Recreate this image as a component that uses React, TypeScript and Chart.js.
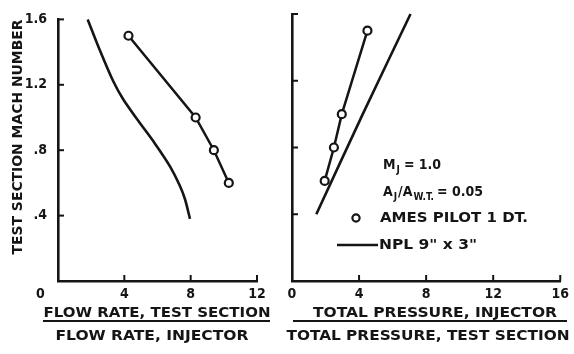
import React, { useEffect, useRef } from 'react';
import { Chart, registerables } from 'chart.js';

Chart.register(...registerables);

// ---- data ----
const machTicks = [0, 0.4, 0.8, 1.2, 1.6];
const flowTicks = [0, 4, 8, 12];
const pressTicks = [0, 4, 8, 12, 16];

const amesMach = [1.5, 1.0, 0.8, 0.6];
const amesFlow = [4.25, 8.3, 9.4, 10.3];
const amesPress = [4.5, 2.97, 2.5, 1.95];

const nplFlowMach = [1.6, 1.41, 1.22, 1.11, 0.98, 0.84, 0.7, 0.58, 0.5, 0.38];
const nplFlow = [1.79, 2.53, 3.34, 3.94, 4.84, 5.85, 6.76, 7.36, 7.66, 7.96];
const nplPressMach = [0.4, 1.0, 1.6];
const nplPress = [1.45, 4.22, 7.07];

const INK = '#151515';
const FONT = '"DejaVu Sans Condensed", "DejaVu Sans", sans-serif';

function pts(xs: number[], ys: number[]) {
  return xs.map((x, i) => ({ x, y: ys[i] }));
}

function fitText(ctx: CanvasRenderingContext2D, text: string, cx: number, cy: number, width: number) {
  const w = ctx.measureText(text).width;
  ctx.save();
  ctx.translate(cx, cy);
  ctx.scale(width / w, 1);
  ctx.textAlign = 'center';
  ctx.textBaseline = 'middle';
  ctx.fillText(text, 0, 0);
  ctx.restore();
}

function leftText(ctx: CanvasRenderingContext2D, text: string, x: number, cy: number, width: number) {
  const w = ctx.measureText(text).width;
  ctx.save();
  ctx.translate(x, cy);
  ctx.scale(width / w, 1);
  ctx.textAlign = 'left';
  ctx.textBaseline = 'middle';
  ctx.fillText(text, 0, 0);
  ctx.restore();
}

const inwardTicks = {
  id: 'inwardTicks',
  afterDraw(chart: any) {
    const { ctx, chartArea, scales } = chart;
    ctx.save();
    ctx.strokeStyle = INK;
    ctx.lineWidth = 2;
    for (const t of scales.y.ticks) {
      if (t.value === 0) continue;
      const y = scales.y.getPixelForValue(t.value);
      ctx.beginPath();
      ctx.moveTo(chartArea.left, y);
      ctx.lineTo(chartArea.left + 6, y);
      ctx.stroke();
    }
    for (const t of scales.x.ticks) {
      if (t.value === 0) continue;
      const x = scales.x.getPixelForValue(t.value);
      ctx.beginPath();
      ctx.moveTo(x, chartArea.bottom);
      ctx.lineTo(x, chartArea.bottom - 6);
      ctx.stroke();
    }
    ctx.restore();
  },
};

function datasets(xs1: number[], ys1: number[], xs2: number[], ys2: number[], tension: number) {
  return [
    {
      label: 'AMES PILOT 1 DT.',
      data: pts(xs1, ys1),
      showLine: true,
      borderColor: INK,
      borderWidth: 2.5,
      pointRadius: 4,
      pointBorderWidth: 2.2,
      pointBackgroundColor: '#ffffff',
      pointBorderColor: INK,
      tension: 0,
      order: 0,
    },
    {
      label: 'NPL 9" x 3"',
      data: pts(xs2, ys2),
      showLine: true,
      borderColor: INK,
      borderWidth: 2.6,
      pointRadius: 0,
      tension,
      order: 1,
    },
  ];
}

function options(
  xTicks: number[],
  yWidth: number,
  padRight: number,
  showY: boolean,
  xLabel: (v: number) => string
) {
  return {
    responsive: false,
    animation: false as const,
    devicePixelRatio: 1,
    clip: false as const,
    layout: { padding: { left: 0, top: 14, right: padRight, bottom: 0 } },
    plugins: { legend: { display: false }, tooltip: { enabled: false } },
    scales: {
      x: {
        type: 'linear' as const,
        min: xTicks[0],
        max: xTicks[xTicks.length - 1],
        afterBuildTicks: (s: any) => {
          s.ticks = xTicks.map((v) => ({ value: v }));
        },
        afterFit: (s: any) => {
          s.height = 73;
        },
        grid: { display: true, drawOnChartArea: false, drawTicks: false, color: INK },
        border: { display: true, color: INK, width: 2.6 },
        ticks: {
          color: INK,
          padding: 5,
          maxRotation: 0,
          autoSkip: false,
          font: { family: FONT, size: 14, weight: 'bold' as const },
          callback: (v: any) => xLabel(Number(v)),
        },
      },
      y: {
        type: 'linear' as const,
        min: 0,
        max: 1.6,
        afterBuildTicks: (s: any) => {
          s.ticks = machTicks.map((v) => ({ value: v }));
        },
        afterFit: (s: any) => {
          s.width = yWidth;
        },
        grid: { display: true, drawOnChartArea: false, drawTicks: false, color: INK },
        border: { display: true, color: INK, width: 2.6 },
        ticks: {
          display: showY,
          color: INK,
          padding: 11,
          autoSkip: false,
          font: { family: FONT, size: 14, weight: 'bold' as const },
          callback: (v: any) => {
            const n = Number(v);
            if (n === 0) return '';
            return n >= 1 ? n.toFixed(1) : '.' + Math.round(n * 10);
          },
        },
      },
    },
  };
}

const leftTitles = {
  id: 'leftTitles',
  afterDraw(chart: any) {
    const ctx: CanvasRenderingContext2D = chart.ctx;
    ctx.save();
    ctx.fillStyle = INK;
    ctx.strokeStyle = INK;
    ctx.font = `bold 14px ${FONT}`;
    // y title
    ctx.save();
    ctx.translate(18, 137);
    ctx.rotate(-Math.PI / 2);
    fitText(ctx, 'TEST SECTION MACH NUMBER', 0, 0, 235);
    ctx.restore();
    // fraction
    fitText(ctx, 'FLOW RATE, TEST SECTION', 157, 313, 227);
    ctx.lineWidth = 2;
    ctx.beginPath();
    ctx.moveTo(43, 321);
    ctx.lineTo(270, 321);
    ctx.stroke();
    fitText(ctx, 'FLOW RATE, INJECTOR', 152, 336, 193);
    ctx.restore();
  },
};

const rightTitles = {
  id: 'rightTitles',
  afterDraw(chart: any) {
    const ctx: CanvasRenderingContext2D = chart.ctx;
    ctx.save();
    ctx.fillStyle = INK;
    ctx.strokeStyle = INK;
    ctx.font = `bold 14px ${FONT}`;
    fitText(ctx, 'TOTAL PRESSURE, INJECTOR', 155, 313, 244);
    ctx.lineWidth = 2;
    ctx.beginPath();
    ctx.moveTo(13, 321);
    ctx.lineTo(287, 321);
    ctx.stroke();
    fitText(ctx, 'TOTAL PRESSURE, TEST SECTION', 148, 336, 283);

    // legend block
    ctx.textAlign = 'left';
    ctx.textBaseline = 'middle';
    const big = `bold 14px ${FONT}`;
    const small = `bold 10px ${FONT}`;
    // M_J = 1.0
    let x = 103;
    ctx.font = big;
    ctx.fillText('M', x, 165);
    x += ctx.measureText('M').width + 1;
    ctx.font = small;
    ctx.fillText('J', x, 170);
    x += ctx.measureText('J').width + 4;
    ctx.font = big;
    ctx.fillText('= 1.0', x, 165);
    // A_J / A_W.T. = 0.05
    x = 103;
    ctx.fillText('A', x, 192);
    x += ctx.measureText('A').width + 1;
    ctx.font = small;
    ctx.fillText('J', x, 197);
    x += ctx.measureText('J').width + 1;
    ctx.font = big;
    ctx.fillText('/A', x, 192);
    x += ctx.measureText('/A').width + 1;
    ctx.font = small;
    ctx.fillText('W.T.', x, 197);
    x += ctx.measureText('W.T.').width + 3;
    ctx.font = big;
    ctx.fillText('= 0.05', x, 192);
    // Ames marker
    ctx.lineWidth = 2.2;
    ctx.fillStyle = '#ffffff';
    ctx.beginPath();
    ctx.arc(76, 218, 3.6, 0, Math.PI * 2);
    ctx.fill();
    ctx.stroke();
    ctx.fillStyle = INK;
    leftText(ctx, 'AMES PILOT 1 DT.', 100, 218, 148);
    // NPL line
    ctx.lineWidth = 2.6;
    ctx.beginPath();
    ctx.moveTo(57, 245);
    ctx.lineTo(98, 245);
    ctx.stroke();
    leftText(ctx, 'NPL 9" x 3"', 99, 245, 98);
    ctx.restore();
  },
};

export default function App() {
  const leftRef = useRef<HTMLCanvasElement>(null);
  const rightRef = useRef<HTMLCanvasElement>(null);

  useEffect(() => {
    const left = new Chart(leftRef.current!, {
      type: 'scatter',
      data: { datasets: datasets(amesFlow, amesMach, nplFlow, nplFlowMach, 0.3) as any },
      options: options(flowTicks, 58, 23, true, (v) => (v === 0 ? '0' + ' '.repeat(8) : String(v))) as any,
      plugins: [inwardTicks, leftTitles],
    });
    const right = new Chart(rightRef.current!, {
      type: 'scatter',
      data: { datasets: datasets(amesPress, amesMach, nplPress, nplPressMach, 0.2) as any },
      options: options(pressTicks, 12, 11, false, (v) => String(v)) as any,
      plugins: [inwardTicks, rightTitles],
    });
    return () => {
      left.destroy();
      right.destroy();
    };
  }, []);

  return (
    <div style={{ position: 'absolute', left: 0, top: 0, width: 574, height: 354, background: '#fff' }}>
      <canvas ref={leftRef} width={280} height={354} style={{ position: 'absolute', left: 0, top: 0, width: 280, height: 354 }} />
      <canvas ref={rightRef} width={294} height={354} style={{ position: 'absolute', left: 280, top: 0, width: 294, height: 354 }} />
    </div>
  );
}
